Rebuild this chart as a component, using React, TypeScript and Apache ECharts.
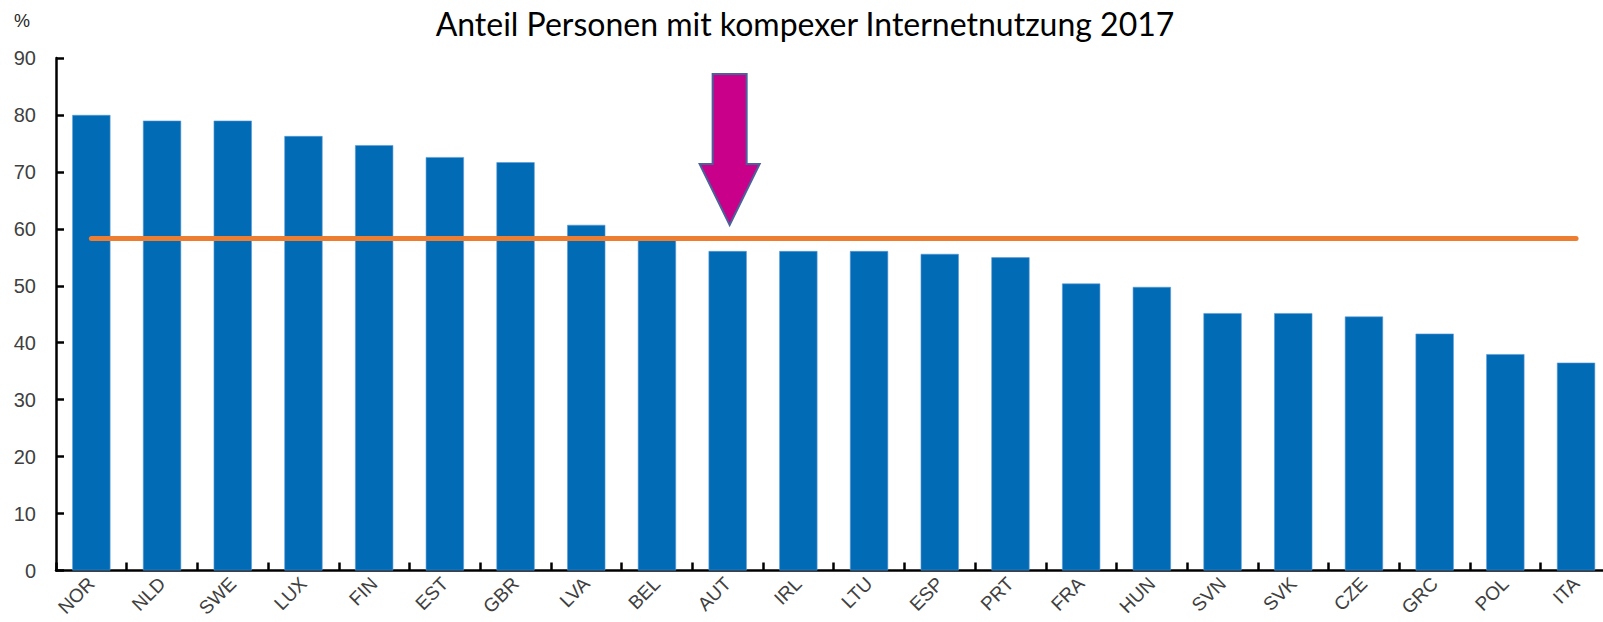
import React, { useEffect, useRef } from "react";
import * as echarts from "echarts";

const categories = ["NOR", "NLD", "SWE", "LUX", "FIN", "EST", "GBR", "LVA", "BEL", "AUT", "IRL", "LTU", "ESP", "PRT", "FRA", "HUN", "SVN", "SVK", "CZE", "GRC", "POL", "ITA"];
const values = [80, 79, 79, 76.3, 74.7, 72.6, 71.7, 60.7, 58, 56.1, 56.1, 56.1, 55.6, 55, 50.4, 49.8, 45.2, 45.2, 44.6, 41.6, 38, 36.5];
const averageValue = 58.3;
const highlighted = "AUT";
const titleText = "Anteil Personen mit kompexer Internetnutzung 2017";
const unitLabel = "%";

export default function App() {
  const ref = useRef<HTMLDivElement>(null);
  useEffect(() => {
    if (!ref.current) return;
    const chart = echarts.init(ref.current, null, { renderer: "svg" });
    const gridLeft = 56;
    const gridTop = 58;
    const gridHeight = 512.5;
    const catWidth = 70.7;
    const baseGraphic = [
      {
        type: "text",
        left: 14,
        top: 12,
        style: { text: unitLabel, fill: "#262626", fontFamily: "Liberation Sans, Arial, sans-serif", fontSize: 18 },
      },
      {
        type: "text",
        x: 805,
        y: 23,
        style: {
          text: titleText,
          fill: "#000",
          fontFamily: "Lato, sans-serif",
          fontSize: 32,
          textAlign: "center",
          textVerticalAlign: "middle",
        },
      },
    ];
    chart.setOption({
      animation: false,
      backgroundColor: "#ffffff",
      grid: { left: gridLeft, top: gridTop, width: catWidth * categories.length, height: gridHeight, containLabel: false },
      xAxis: {
        type: "category",
        data: categories,
        boundaryGap: true,
        axisLine: { lineStyle: { color: "#000", width: 2.5 } },
        axisTick: { show: true, inside: true, length: 8, lineStyle: { color: "#000", width: 2.5 } },
        axisLabel: {
          rotate: 45,
          interval: 0,
          color: "#404040",
          fontFamily: "Liberation Sans, Arial, sans-serif",
          fontSize: 19,
          margin: 10,
        },
      },
      yAxis: {
        type: "value",
        min: 0,
        max: 90,
        interval: 10,
        splitLine: { show: false },
        axisLine: { show: true, lineStyle: { color: "#000", width: 2.5 } },
        axisTick: { show: true, inside: true, length: 8, lineStyle: { color: "#000", width: 2.5 } },
        axisLabel: {
          color: "#404040",
          fontFamily: "Liberation Sans, Arial, sans-serif",
          fontSize: 20,
          margin: 20,
        },
      },
      series: [
        {
          type: "bar",
          data: values,
          barWidth: "54%",
          itemStyle: { color: "#026BB6", borderColor: "#5C9BD6", borderWidth: 0.6 },
          markLine: {
            silent: true,
            symbol: ["none", "none"],
            label: { show: false },
            lineStyle: { color: "#ED7D31", width: 5, type: "solid", cap: "round" },
            data: [[
              { coord: [categories[0], averageValue] },
              { coord: [categories[categories.length - 1], averageValue] },
            ]],
          },
        },
      ],
      graphic: baseGraphic,
    });
    const idx = categories.indexOf(highlighted);
    const tip = chart.convertToPixel({ gridIndex: 0 }, [idx, averageValue]) as number[];
    const cx = tip[0] + 2;
    const tipY = 225;
    chart.setOption({
      graphic: [
        ...baseGraphic,
        {
          type: "polygon",
          shape: {
            points: [
              [cx - 17, 74],
              [cx + 17, 74],
              [cx + 17, 164],
              [cx + 30, 164],
              [cx, tipY],
              [cx - 30, 164],
              [cx - 17, 164],
            ],
          },
          style: { fill: "#C8008A", stroke: "#4A6199", lineWidth: 2 },
          z: 100,
        },
      ],
    }, { replaceMerge: ["graphic"] });
    return () => chart.dispose();
  }, []);
  return (
    <div style={{ position: "absolute", left: 0, top: 0, width: 1603, height: 622, overflow: "hidden" }}>
      <div ref={ref} style={{ position: "absolute", left: 0, top: 0, width: 1640, height: 622 }} />
    </div>
  );
}
